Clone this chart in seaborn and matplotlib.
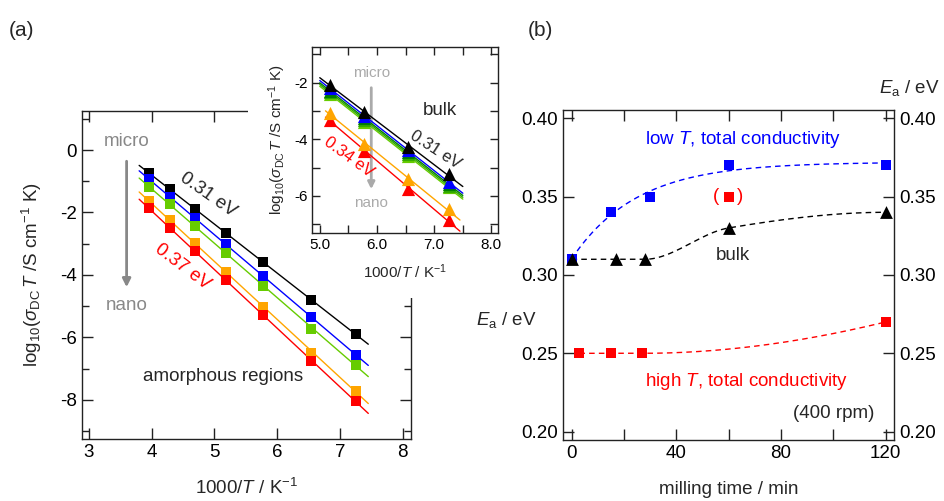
import numpy as np
import pandas as pd
import matplotlib
matplotlib.use('Agg')
import matplotlib.pyplot as plt
import seaborn as sns
from matplotlib.patches import Rectangle
from matplotlib.ticker import MultipleLocator

## data, panel (a) amorphous regions (squares)
inv_T = [3.95, 4.29, 4.69, 5.18, 5.78, 6.54, 7.25]      # 1000/T
amor_black  = [-0.73, -1.26, -1.89, -2.65, -3.59, -4.80, -5.90]
amor_blue   = [-0.94, -1.49, -2.19, -3.01, -4.03, -5.35, -6.56]
amor_green  = [-1.19, -1.74, -2.42, -3.29, -4.34, -5.72, -6.88]
amor_orange = [-1.63, -2.24, -2.99, -3.89, -5.02, -6.49, -7.70]
amor_red    = [-1.87, -2.50, -3.23, -4.16, -5.29, -6.74, -8.05]

## inset, bulk (triangles)
inv_T_bulk  = [5.18, 5.78, 6.54, 7.25]
bulk_black  = [-2.08, -3.02, -4.26, -5.24]
bulk_blue   = [-2.20, -3.18, -4.38, -5.50]
bulk_dgreen = [-2.28, -3.26, -4.46, -5.58]
bulk_green  = [-2.34, -3.32, -4.53, -5.64]
bulk_lgreen = [-2.40, -3.38, -4.60, -5.70]
bulk_orange = [-3.06, -4.18, -5.41, -6.47]
bulk_red    = [-3.32, -4.40, -5.76, -6.85]

## panel (b)
t_lowT  = [0, 15, 30, 60, 120]
Ea_lowT = [0.31, 0.34, 0.35, 0.37, 0.37]
t_bulk  = [0, 17, 28, 60, 120]
Ea_bulk = [0.31, 0.31, 0.31, 0.33, 0.34]
t_highT  = [3, 15, 27, 120]
Ea_highT = [0.25, 0.25, 0.25, 0.27]
t_paren  = [60]
Ea_paren = [0.35]

GREEN = '#66cc00'
ORANGE = '#ffa500'
FS = 13.5     # main font size
FSI = 11      # inset font size

sns.set_theme(style='ticks')
plt.rcParams['font.family'] = ['Liberation Sans', 'DejaVu Sans']
plt.rcParams['mathtext.fontset'] = 'custom'
plt.rcParams['mathtext.rm'] = 'Liberation Sans'
plt.rcParams['mathtext.it'] = 'Liberation Sans:italic'
plt.rcParams['axes.edgecolor'] = '#222222'
plt.rcParams['axes.linewidth'] = 1.0


def pchip(x, y, xn):
    # monotone cubic guide line through the points
    x = np.asarray(x, float); y = np.asarray(y, float)
    h = np.diff(x); d = np.diff(y) / h
    n = len(x)
    m = np.zeros(n)
    for k in range(1, n - 1):
        if d[k-1] * d[k] > 0:
            w1 = 2*h[k] + h[k-1]; w2 = h[k] + 2*h[k-1]
            m[k] = (w1 + w2) / (w1/d[k-1] + w2/d[k])
    def endslope(h0, h1, d0, d1):
        s = ((2*h0 + h1)*d0 - h0*d1) / (h0 + h1)
        if np.sign(s) != np.sign(d0):
            s = 0.0
        elif np.sign(d0) != np.sign(d1) and abs(s) > abs(3*d0):
            s = 3*d0
        return s
    m[0] = endslope(h[0], h[1], d[0], d[1])
    m[-1] = endslope(h[-1], h[-2], d[-1], d[-2])
    idx = np.clip(np.searchsorted(x, xn) - 1, 0, n - 2)
    t = (xn - x[idx]) / h[idx]
    h00 = 2*t**3 - 3*t**2 + 1; h10 = t**3 - 2*t**2 + t
    h01 = -2*t**3 + 3*t**2;    h11 = t**3 - t**2
    return h00*y[idx] + h10*h[idx]*m[idx] + h01*y[idx+1] + h11*h[idx]*m[idx+1]


def satfit(x, y, xn):
    # least squares y = a - b*exp(-x/tau), tau by grid search
    x = np.asarray(x, float); y = np.asarray(y, float)
    best = None
    for tau in np.linspace(3, 80, 400):
        A = np.column_stack([np.ones_like(x), -np.exp(-x/tau)])
        coef, res, _, _ = np.linalg.lstsq(A, y, rcond=None)
        r = np.sum((A @ coef - y)**2)
        if best is None or r < best[0]:
            best = (r, tau, coef)
    _, tau, (a, b) = best
    return a - b*np.exp(-xn/tau)


def fitline(ax, x, y, c, x0, x1, lw=1.0):
    p = np.polyfit(x, y, 1)
    xx = np.array([x0, x1])
    sns.lineplot(x=xx, y=np.polyval(p, xx), color=c, lw=lw, ax=ax, zorder=3.5)


def ticks(ax, size):
    ax.tick_params(which='both', direction='in', top=True, right=True,
                   labelsize=size, colors='#222222', width=1)
    ax.tick_params(which='major', length=8)
    ax.tick_params(which='minor', length=5)
    ax.tick_params(axis='both', labelcolor='black')


fig = plt.figure(figsize=(9.45, 5.01), dpi=100)

## ---- (a) main
ax = fig.add_axes([0.0868, 0.1238, 0.3481, 0.6547])
ax.set_zorder(0)
amor = [(amor_black, 'black'), (amor_blue, 'blue'), (amor_green, GREEN),
        (amor_orange, ORANGE), (amor_red, 'red')]
for yy, c in amor:
    fitline(ax, inv_T, yy, c, 3.8, 7.45)
for yy, c in amor:
    sns.scatterplot(x=inv_T, y=yy, color=c, marker='s', s=48, linewidth=0,
                    ax=ax, zorder=4)
ax.set_xlim(2.89, 8.13)
ax.set_ylim(-9.25, 1.25)
ax.xaxis.set_major_locator(MultipleLocator(1))
ax.yaxis.set_major_locator(MultipleLocator(2))
ax.yaxis.set_minor_locator(MultipleLocator(1))
ax.yaxis.set_major_formatter(matplotlib.ticker.FuncFormatter(lambda v, p: '%d' % v))
ticks(ax, FS)
ax.set_xlabel(r'1000/$T$ / K$^{-1}$', fontsize=FS, labelpad=12)
ax.set_ylabel(r'log$_{10}$($\sigma_{\rm DC}\,T$ /S cm$^{-1}$ K)', fontsize=FS, labelpad=12)
ax.annotate('', xy=(3.60, -4.48), xytext=(3.60, -0.27),
            arrowprops=dict(arrowstyle='-|>', color='#888888', lw=2, mutation_scale=12))
ax.text(3.60, 0.27, 'micro', color='#888888', fontsize=FS, ha='center', va='center')
ax.text(3.60, -4.99, 'nano', color='#888888', fontsize=FS, ha='center', va='center')
ax.text(4.89, -1.45, '0.31 eV', fontsize=FS, rotation=-35, ha='center', va='center')
ax.text(4.49, -3.74, '0.37 eV', fontsize=FS, rotation=-37, ha='center', va='center', color='red')
ax.text(5.13, -7.25, 'amorphous regions', fontsize=FS, ha='center', va='center')

# white patch behind the inset hides part of the main frame (not the data)
ax.add_patch(Rectangle((0.5046, 0.43), 0.56, 0.62, transform=ax.transAxes,
                       facecolor='white', edgecolor='none', zorder=3, clip_on=False))

## ---- (a) inset
ins = fig.add_axes([0.3305, 0.5355, 0.1968, 0.3701])
ins.set_zorder(1)
bulk_top = [(bulk_black, 'black'), (bulk_blue, 'blue'), (bulk_dgreen, '#008000'),
            (bulk_green, '#33aa00'), (bulk_lgreen, GREEN)]
bulk_low = [(bulk_orange, ORANGE), (bulk_red, 'red')]
for yy, c in bulk_top[::-1]:
    fitline(ins, inv_T_bulk, yy, c, 5.0, 7.5)
for yy, c in bulk_low:
    fitline(ins, inv_T_bulk, yy, c, 5.1, 7.45)
for yy, c in (bulk_top + bulk_low)[::-1]:
    sns.scatterplot(x=inv_T_bulk, y=yy, color=c, marker='^', s=90, linewidth=0,
                    ax=ins, zorder=4)
ins.set_xlim(4.87, 8.12)
ins.set_ylim(-7.3, -0.75)
ins.xaxis.set_major_locator(MultipleLocator(1))
ins.xaxis.set_minor_locator(MultipleLocator(0.5))
ins.xaxis.set_major_formatter(matplotlib.ticker.FormatStrFormatter('%.1f'))
ins.yaxis.set_major_locator(MultipleLocator(2))
ins.yaxis.set_minor_locator(MultipleLocator(1))
ins.yaxis.set_major_formatter(matplotlib.ticker.FuncFormatter(lambda v, p: '%d' % v))
ticks(ins, FSI)
ins.tick_params(which='major', length=6)
ins.tick_params(which='minor', length=6)
ins.set_xlabel(r'1000/$T$ / K$^{-1}$', fontsize=FSI, labelpad=8)
ins.set_ylabel(r'log$_{10}$($\sigma_{\rm DC}\,T$ /S cm$^{-1}$ K)', fontsize=FSI, labelpad=4)
ins.annotate('', xy=(5.90, -5.86), xytext=(5.90, -2.08),
             arrowprops=dict(arrowstyle='-|>', color='#aaaaaa', lw=2, mutation_scale=10),
             zorder=1)
ins.text(5.90, -1.67, 'micro', color='#aaaaaa', fontsize=FSI, ha='center', va='center')
ins.text(5.90, -6.25, 'nano', color='#aaaaaa', fontsize=FSI, ha='center', va='center')
ins.text(7.10, -3.0, 'bulk', fontsize=FS, ha='center', va='center')
ins.text(7.02, -4.38, '0.31 eV', fontsize=12, rotation=-33, ha='center', va='center')
ins.text(5.50, -4.62, '0.34 eV', fontsize=12, rotation=-36, ha='center', va='center', color='red')

## ---- (b)
bx = fig.add_axes([0.5954, 0.1218, 0.3506, 0.6587])
dash = (4, 3)
xb = np.linspace(t_lowT[0], t_lowT[-1], 300)
guides = [(xb, satfit(t_lowT, Ea_lowT, xb), 'blue')]
for tt, ee, c in [(t_bulk, Ea_bulk, 'black'), (t_highT, Ea_highT, 'red')]:
    xx = np.linspace(tt[0], tt[-1], 300)
    guides.append((xx, pchip(tt, ee, xx), c))
for xx, yy, c in guides:
    sns.lineplot(x=xx, y=yy, color=c, lw=1, ax=bx, zorder=2)
    bx.lines[-1].set_dashes(dash)
sns.scatterplot(x=t_lowT, y=Ea_lowT, color='blue', marker='s', s=62, linewidth=0, ax=bx, zorder=3)
sns.scatterplot(x=t_highT, y=Ea_highT, color='red', marker='s', s=62, linewidth=0, ax=bx, zorder=3)
sns.scatterplot(x=t_paren, y=Ea_paren, color='red', marker='s', s=62, linewidth=0, ax=bx, zorder=3)
sns.scatterplot(x=t_bulk, y=Ea_bulk, color='black', marker='^', s=85, linewidth=0, ax=bx, zorder=4)
for dx, s in [(-9, '('), (8, ')')]:
    bx.annotate(s, xy=(t_paren[0], Ea_paren[0]), xytext=(dx, 0), textcoords='offset points',
                color='red', fontsize=FS, ha='center', va='center')
bx.set_xlim(-3.4, 123.2)
bx.set_ylim(0.1947, 0.4053)
bx.xaxis.set_major_locator(MultipleLocator(40))
bx.xaxis.set_minor_locator(MultipleLocator(20))
bx.yaxis.set_major_locator(MultipleLocator(0.05))
bx.yaxis.set_major_formatter(matplotlib.ticker.FormatStrFormatter('%.2f'))
ticks(bx, FS)
bx.tick_params(which='minor', length=8)
bx.tick_params(labelright=True)
bx.set_xlabel('milling time / min', fontsize=FS, labelpad=14)
bx.text(65.3, 0.3863, r'low $T$, total conductivity', color='blue', fontsize=FS, ha='center', va='center')
bx.text(66.9, 0.2319, r'high $T$, total conductivity', color='red', fontsize=FS, ha='center', va='center')
bx.text(61.8, 0.3122, 'bulk', fontsize=FS, ha='center', va='center')
bx.text(100, 0.2117, '(400 rpm)', fontsize=FS, ha='center', va='center')

fig.text(506/945, 1 - 320/501, r'$E_{\rm a}$ / eV', fontsize=FS, ha='center', va='center')
fig.text(909/945, 1 - 88/501, r'$E_{\rm a}$ / eV', fontsize=FS, ha='center', va='center')
fig.text(22/945, 1 - 30/501, '(a)', fontsize=15, ha='center', va='center')
fig.text(540/945, 1 - 30/501, '(b)', fontsize=15, ha='center', va='center')

fig.savefig('out.png', dpi=100)
